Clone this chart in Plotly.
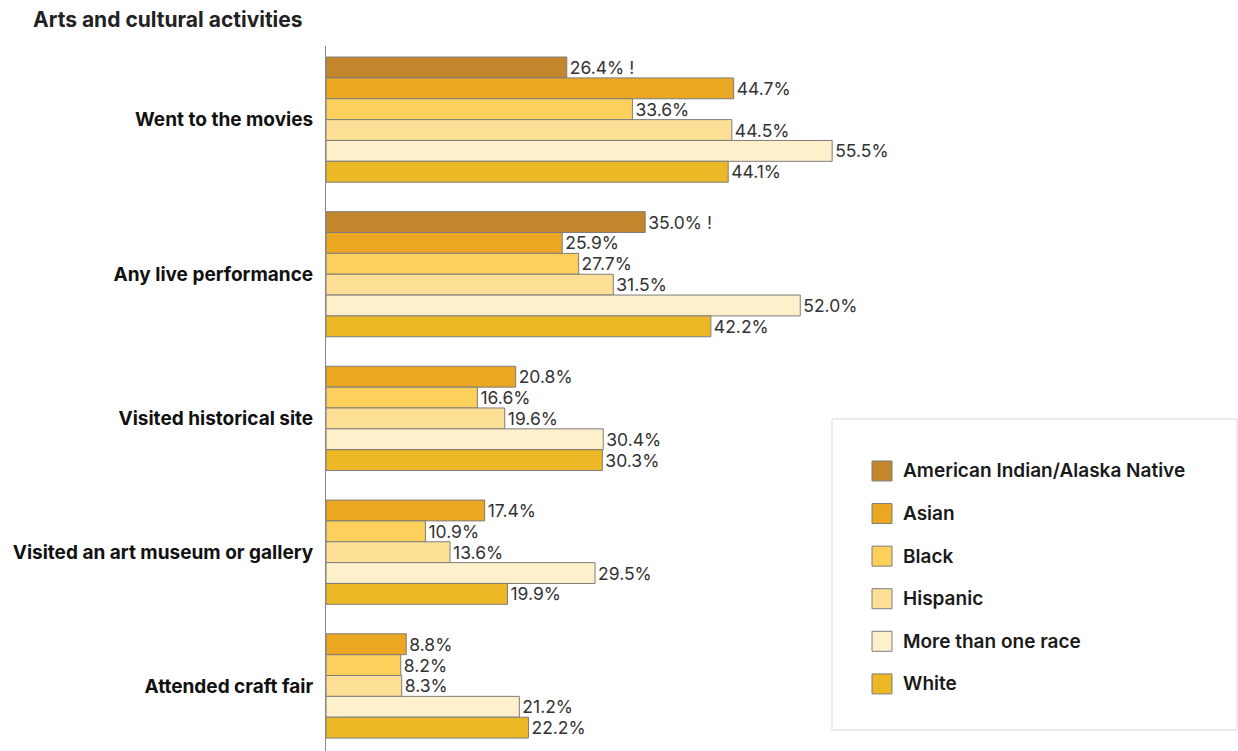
import plotly.graph_objects as go

# Activities (top to bottom) and participation shares by race/ethnicity, in percent
activities = [
    "Went to the movies",
    "Any live performance",
    "Visited historical site",
    "Visited an art museum or gallery",
    "Attended craft fair",
]
groups = [
    "American Indian/Alaska Native",
    "Asian",
    "Black",
    "Hispanic",
    "More than one race",
    "White",
]
aian = [26.4, 35.0, None, None, None]
asian = [44.7, 25.9, 20.8, 17.4, 8.8]
black = [33.6, 27.7, 16.6, 10.9, 8.2]
hispanic = [44.5, 31.5, 19.6, 13.6, 8.3]
multi = [55.5, 52.0, 30.4, 29.5, 21.2]
white = [44.1, 42.2, 30.3, 19.9, 22.2]
# Estimates flagged for interpret-with-caution
aian_flag = [True, True, False, False, False]

series = [aian, asian, black, hispanic, multi, white]
flags = [aian_flag] + [[False] * len(activities)] * 5
colors = ["#C4862D", "#EBA622", "#FDD05C", "#FDE096", "#FEF0CA", "#EDB826"]
edge = "#7d7d7d"
font_family = "Inter, 'Open Sans', sans-serif"

# Stack bars one slot apart inside each activity, with a gap between activities;
# missing estimates are skipped so the group closes up.
GAP = 1.415
pos = 0.0
ypos = [[None] * len(activities) for _ in groups]
centers = []
for i in range(len(activities)):
    start = pos
    for k, vals in enumerate(series):
        if vals[i] is not None:
            ypos[k][i] = pos + 0.5
            pos += 1
    centers.append((start + pos) / 2)
    pos += GAP
total = pos - GAP

fig = go.Figure()
for k, name in enumerate(groups):
    xs, ys, txt = [], [], []
    for i, v in enumerate(series[k]):
        if v is None:
            continue
        xs.append(v)
        ys.append(ypos[k][i])
        txt.append(f"{v:.1f}%" + (" !" if flags[k][i] else ""))
    fig.add_trace(go.Bar(
        x=xs, y=ys, name=name, orientation="h", width=1,
        marker=dict(color=colors[k], line=dict(color=edge, width=1)),
        text=txt, textposition="outside", constraintext="none", cliponaxis=False,
        textfont=dict(family=font_family, size=17.5, color="#333333"),
        showlegend=False, hoverinfo="skip",
    ))

# Legend panel
shapes = [dict(type="rect", xref="paper", yref="paper",
               x0=0.5548, x1=0.9989, y0=0.0298, y1=0.4709,
               line=dict(color="#d9d9d9", width=1), fillcolor="white", layer="below")]
annotations = []
row0, step, half = 0.3972, 0.0604, 0.01418
for k, name in enumerate(groups):
    yc = row0 - k * step
    shapes.append(dict(type="rect", xref="paper", yref="paper",
                       x0=0.5987, x1=0.6206, y0=yc - half, y1=yc + half,
                       line=dict(color=edge, width=1), fillcolor=colors[k]))
    annotations.append(dict(xref="paper", yref="paper", x=0.6305, y=yc,
                            xanchor="left", yanchor="middle", showarrow=False,
                            text=name,
                            font=dict(family=font_family, size=19, color="#1a1a1a", weight=600)))

fig.update_layout(
    width=1238, height=751,
    margin=dict(l=326, r=0, t=46, b=0),
    paper_bgcolor="white", plot_bgcolor="white",
    barmode="overlay",
    title=dict(text="<b>Arts and cultural activities</b>", xref="container", yref="container",
               x=33 / 1238, y=1 - 20 / 751, xanchor="left", yanchor="middle",
               font=dict(family=font_family, size=21, color="#222222")),
    xaxis=dict(range=[0, 100], visible=False, fixedrange=True),
    yaxis=dict(range=[total + 0.62, -0.53], tickvals=centers,
               ticktext=[f"<b>{a}</b>" for a in activities],
               tickfont=dict(family=font_family, size=19, color="#111111"),
               showline=True, linecolor="#888888", linewidth=1,
               showgrid=False, zeroline=False, ticks="", ticklabelstandoff=8,
               fixedrange=True),
    shapes=shapes, annotations=annotations,
    showlegend=False,
)

fig.write_html("out.html")
